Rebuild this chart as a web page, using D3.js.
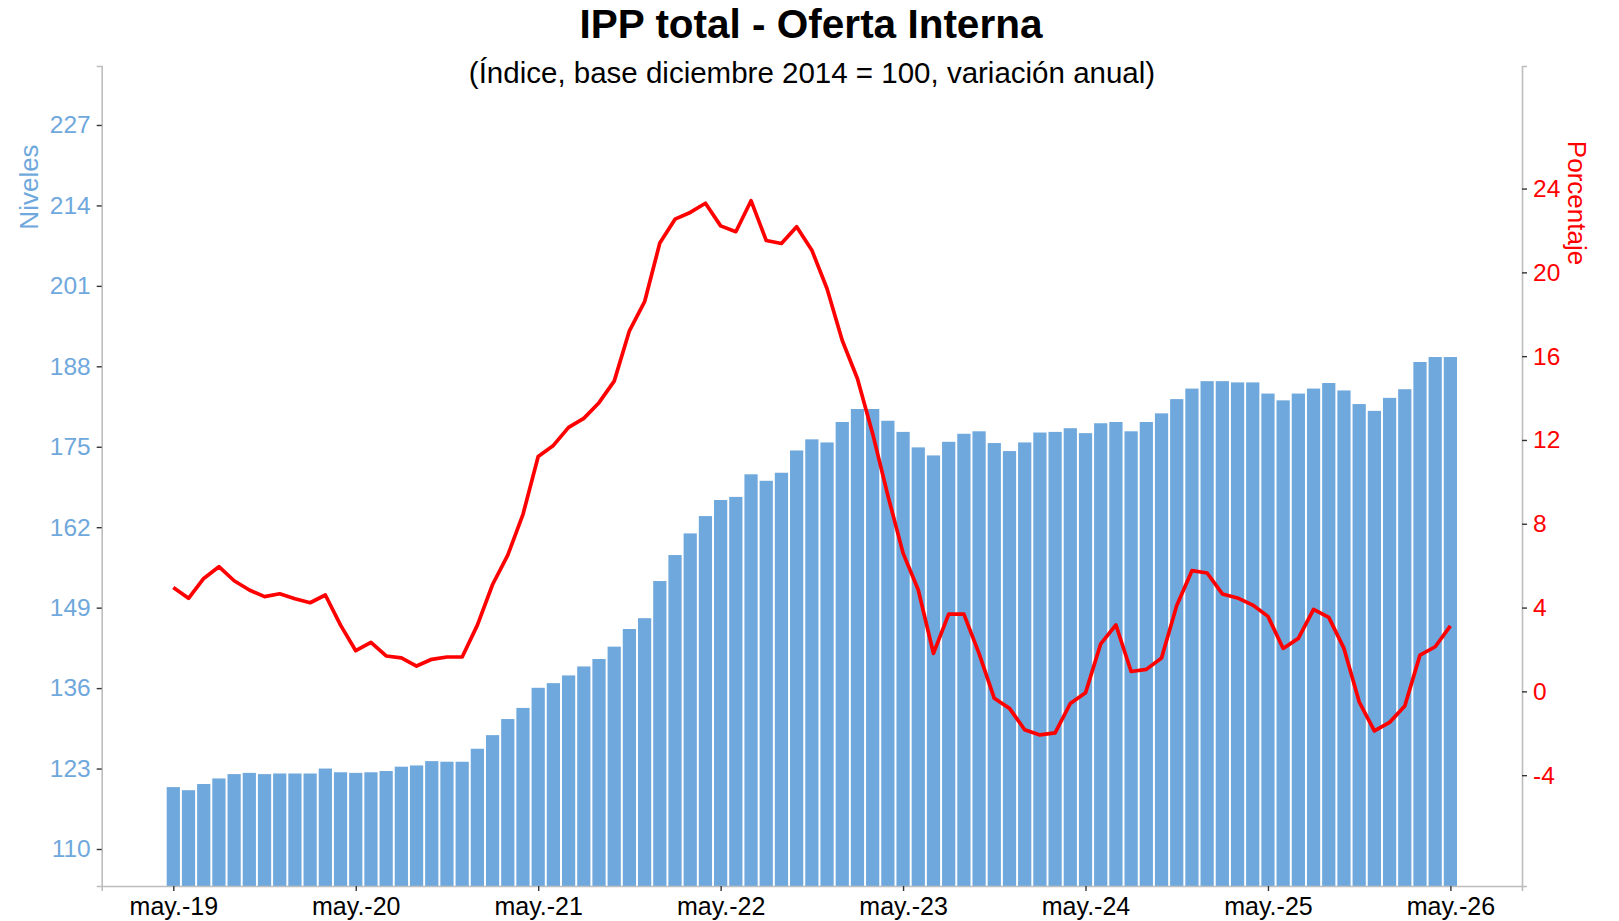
<!DOCTYPE html>
<html>
<head>
<meta charset="utf-8">
<script src="https://cdn.jsdelivr.net/npm/d3@7"></script>
<style>
  body { margin: 0; background: white; }
  text { font-family: "Liberation Sans", Arial, sans-serif; }
</style>
</head>
<body>
<div id="chart"></div>
<script>
// indice IPP (niveles), mayo 2019 -> mayo 2026
const niveles = [
  120.0, 119.5, 120.5, 121.4, 122.1, 122.3, 122.1, 122.2, 122.2, 122.2, 123.0, 122.4,
  122.3, 122.4, 122.6, 123.3, 123.5, 124.2, 124.1, 124.1, 126.2, 128.4, 131.0, 132.8,
  136.05, 136.8, 138.05, 139.5, 140.7, 142.7, 145.55, 147.3, 153.3, 157.5, 161.0, 163.8,
  166.4, 166.9, 170.55, 169.5, 170.8, 174.4, 176.2, 175.7, 179.0, 181.1, 181.1, 179.2,
  177.4, 174.9, 173.6, 175.8, 177.1, 177.5, 175.6, 174.3, 175.7, 177.3, 177.4, 178.0,
  177.2, 178.8, 179.0, 177.5, 179.0, 180.4, 182.7, 184.4, 185.6, 185.6, 185.4, 185.4,
  183.6, 182.5, 183.6, 184.4, 185.3, 184.1, 181.9, 180.8, 182.9, 184.3, 188.7, 189.5,
  189.5
]

// variacion anual (%)
const variacion = [
  4.96, 4.44, 5.39, 5.95, 5.28, 4.84, 4.52, 4.66, 4.42, 4.23, 4.60, 3.16,
  1.94, 2.34, 1.69, 1.60, 1.21, 1.53, 1.64, 1.64, 3.16, 5.10, 6.50, 8.45,
  11.21, 11.74, 12.60, 13.03, 13.78, 14.81, 17.21, 18.60, 21.40, 22.54, 22.86, 23.30,
  22.22, 21.94, 23.42, 21.52, 21.38, 22.18, 21.06, 19.22, 16.75, 14.92, 12.30, 9.35,
  6.60, 4.84, 1.81, 3.69, 3.69, 1.80, -0.33, -0.81, -1.83, -2.08, -1.98, -0.58,
  -0.07, 2.27, 3.17, 0.95, 1.05, 1.59, 4.10, 5.76, 5.65, 4.65, 4.46, 4.12,
  3.58, 2.05, 2.53, 3.91, 3.53, 2.05, -0.50, -1.89, -1.48, -0.70, 1.73, 2.13,
  3.13
]

const xTickLabels = ["may.-19", "may.-20", "may.-21", "may.-22", "may.-23", "may.-24", "may.-25", "may.-26"]
const leftTicks = [110, 123, 136, 149, 162, 175, 188, 201, 214, 227]
const rightTicks = [-4, 0, 4, 8, 12, 16, 20, 24]

const W = 1619, H = 921
const MARGIN = { LEFT: 101.7, RIGHT: 97, TOP: 66, BOTTOM: 35 }
const BLUE = "#6fa8dc"
const RED = "#ff0000"

const svg = d3.select("#chart").append("svg")
  .attr("width", W)
  .attr("height", H)

svg.append("rect").attr("width", W).attr("height", H).attr("fill", "white")

const x = d3.scaleLinear()
  .domain([-4.71, 88.71])
  .range([MARGIN.LEFT, W - MARGIN.RIGHT])

const yL = d3.scaleLinear()
  .domain([104.02, 236.53])
  .range([H - MARGIN.BOTTOM, MARGIN.TOP])

const yR = d3.scaleLinear()
  .domain([-9.29, 29.85])
  .range([H - MARGIN.BOTTOM, MARGIN.TOP])

const step = x(1) - x(0)
const barW = step * 0.87

// barras
svg.append("g")
  .selectAll("rect")
  .data(niveles)
  .enter()
  .append("rect")
    .attr("x", (d, i) => x(i) - barW / 2)
    .attr("y", d => yL(d))
    .attr("width", barW)
    .attr("height", d => yL.range()[0] - yL(d))
    .attr("fill", BLUE)

// linea
svg.append("path")
  .datum(variacion)
  .attr("d", d3.line()
    .x((d, i) => x(i))
    .y(d => yR(d)))
  .attr("fill", "none")
  .attr("stroke", RED)
  .attr("stroke-width", 3.7)
  .attr("stroke-linejoin", "round")

// ejes
function styleAxis(g, color, size) {
  g.select(".domain").attr("stroke", "#bdbdbd").attr("stroke-width", 1.6)
  g.selectAll(".tick line").attr("stroke", "#333").attr("stroke-width", 1.4)
  g.selectAll(".tick text")
    .attr("fill", color)
    .style("font-size", size + "px")
}

const xAxis = svg.append("g")
  .attr("transform", `translate(0, ${H - MARGIN.BOTTOM})`)
  .call(d3.axisBottom(x)
    .tickValues(xTickLabels.map((d, i) => i * 12))
    .tickFormat((d, i) => xTickLabels[i])
    .tickSizeOuter(0)
    .tickSize(5)
    .tickPadding(6))
styleAxis(xAxis, "#000", 25)

const leftAxis = svg.append("g")
  .attr("transform", `translate(${MARGIN.LEFT}, 0)`)
  .call(d3.axisLeft(yL).tickValues(leftTicks).tickFormat(d => String(d))
    .tickSizeOuter(0).tickSize(5).tickPadding(6))
styleAxis(leftAxis, BLUE, 24.5)

const rightAxis = svg.append("g")
  .attr("transform", `translate(${W - MARGIN.RIGHT}, 0)`)
  .call(d3.axisRight(yR).tickValues(rightTicks).tickFormat(d => String(d))
    .tickSizeOuter(0).tickSize(5).tickPadding(6))
styleAxis(rightAxis, RED, 24.5)

// titulos
svg.append("text")
  .attr("x", 811)
  .attr("y", 38)
  .attr("text-anchor", "middle")
  .style("font-size", "40.5px")
  .style("font-weight", "bold")
  .text("IPP total - Oferta Interna")

svg.append("text")
  .attr("x", 812)
  .attr("y", 83)
  .attr("text-anchor", "middle")
  .style("font-size", "29.5px")
  .text("(Índice, base diciembre 2014 = 100, variación anual)")

svg.append("text")
  .attr("transform", "translate(38, 187) rotate(-90)")
  .attr("text-anchor", "middle")
  .attr("fill", BLUE)
  .style("font-size", "26px")
  .text("Niveles")

svg.append("text")
  .attr("transform", "translate(1568, 203) rotate(90)")
  .attr("text-anchor", "middle")
  .attr("fill", RED)
  .style("font-size", "26px")
  .text("Porcentaje")
</script>
</body>
</html>
